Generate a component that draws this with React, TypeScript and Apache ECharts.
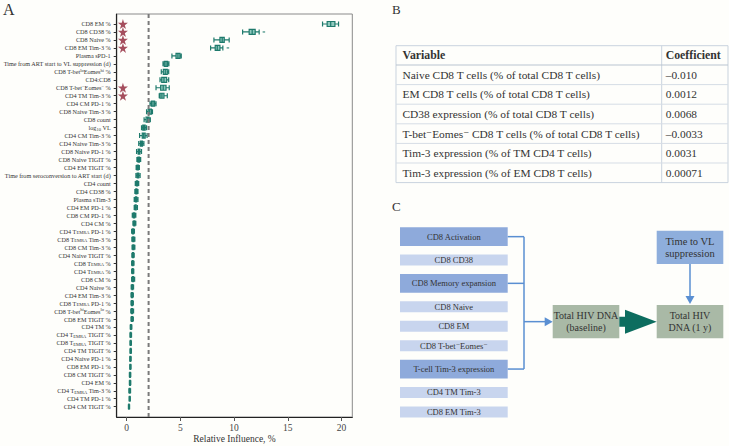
import React, { useEffect, useRef } from "react";
import * as echarts from "echarts";

const FONT = "Liberation Serif, DejaVu Serif, serif";

// ---------- Panel A data ----------
const variables = [
  "CD8 EM %",
  "CD8 CD38 %",
  "CD8 Naive %",
  "CD8 EM Tim-3 %",
  "Plasma sPD-1",
  "Time from ART start to VL suppression (d)",
  "CD8 T-bet{sup|lo}Eomes{sup|hi} %",
  "CD4:CD8",
  "CD8 T-bet{sup|−}Eomes{sup|−} %",
  "CD4 TM Tim-3 %",
  "CD4 CM PD-1 %",
  "CD8 Naive Tim-3 %",
  "CD8 count",
  "log{sub|10} VL",
  "CD4 CM Tim-3 %",
  "CD4 Naive Tim-3 %",
  "CD8 Naive PD-1 %",
  "CD8 Naive TIGIT %",
  "CD4 EM TIGIT %",
  "Time from seroconversion to ART start (d)",
  "CD4 count",
  "CD4 CD38 %",
  "Plasma sTim-3",
  "CD4 EM PD-1 %",
  "CD8 CM PD-1 %",
  "CD4 CM %",
  "CD4 T{sub|EMRA} PD-1 %",
  "CD8 T{sub|EMRA} Tim-3 %",
  "CD8 CM Tim-3 %",
  "CD4 Naive TIGIT %",
  "CD8 T{sub|EMRA} %",
  "CD4 T{sub|EMRA} %",
  "CD8 CM %",
  "CD4 Naive %",
  "CD4 EM Tim-3 %",
  "CD8 T{sub|EMRA} PD-1 %",
  "CD8 T-bet{sup|hi}Eomes{sup|lo} %",
  "CD8 EM TIGIT %",
  "CD4 TM %",
  "CD4 T{sub|EMRA} TIGIT %",
  "CD8 T{sub|EMRA} TIGIT %",
  "CD4 TM TIGIT %",
  "CD4 Naive PD-1 %",
  "CD8 EM PD-1 %",
  "CD8 CM TIGIT %",
  "CD4 EM %",
  "CD4 T{sub|EMRA} Tim-3 %",
  "CD4 TM PD-1 %",
  "CD4 CM TIGIT %",
];

const whiskerLow = [18.23, 10.79, 8.12, 7.81, 4.21, 3.38, 3.22, 3.1, 2.73, 3.03, 2.17, 1.85, 1.62, 1.38, 1.2, 1.12, 0.92, 0.95, 0.88, 0.86, 0.8, 0.76, 0.7, 0.7, 0.52, 0.58, 0.46, 0.48, 0.5, 0.48, 0.46, 0.46, 0.46, 0.42, 0.4, 0.4, 0.38, 0.4, 0.33, 0.3, 0.3, 0.3, 0.28, 0.28, 0.25, 0.25, 0.2, 0.22, 0.16];
const quartile1 = [18.66, 11.4, 8.68, 8.24, 4.59, 3.5, 3.41, 3.26, 3.16, 3.1, 2.3, 2.0, 1.8, 1.5, 1.45, 1.27, 1.07, 1.05, 0.96, 0.98, 0.9, 0.85, 0.81, 0.78, 0.62, 0.66, 0.54, 0.57, 0.57, 0.55, 0.52, 0.52, 0.54, 0.49, 0.46, 0.46, 0.46, 0.46, 0.37, 0.34, 0.34, 0.34, 0.31, 0.31, 0.28, 0.28, 0.25, 0.25, 0.19];
const medians = [18.99, 11.68, 8.89, 8.43, 4.77, 3.66, 3.59, 3.47, 3.4, 3.28, 2.45, 2.14, 1.95, 1.61, 1.58, 1.36, 1.15, 1.12, 1.02, 1.05, 0.96, 0.9, 0.87, 0.83, 0.68, 0.71, 0.59, 0.62, 0.62, 0.59, 0.56, 0.56, 0.59, 0.53, 0.5, 0.5, 0.5, 0.5, 0.4, 0.37, 0.37, 0.37, 0.34, 0.34, 0.31, 0.31, 0.28, 0.28, 0.21];
const quartile3 = [19.38, 11.96, 9.08, 8.68, 4.96, 3.81, 3.78, 3.72, 3.66, 3.47, 2.6, 2.3, 2.08, 1.72, 1.72, 1.47, 1.23, 1.19, 1.08, 1.12, 1.02, 0.95, 0.93, 0.88, 0.74, 0.76, 0.64, 0.67, 0.67, 0.63, 0.6, 0.6, 0.64, 0.57, 0.54, 0.54, 0.54, 0.54, 0.43, 0.4, 0.4, 0.4, 0.37, 0.37, 0.34, 0.34, 0.31, 0.31, 0.23];
const whiskerHigh = [19.72, 12.33, 9.54, 8.95, 5.08, 3.93, 3.91, 3.91, 3.96, 3.78, 2.73, 2.4, 2.2, 1.85, 1.9, 1.6, 1.38, 1.3, 1.18, 1.25, 1.12, 1.05, 1.05, 1.0, 0.85, 0.85, 0.72, 0.76, 0.76, 0.7, 0.68, 0.66, 0.74, 0.64, 0.62, 0.62, 0.64, 0.62, 0.48, 0.45, 0.44, 0.44, 0.42, 0.41, 0.38, 0.38, 0.36, 0.34, 0.27];
const outlierRows = [1, 3];
const outlierValues = [12.77, 9.42];
const starredRows = [0, 1, 2, 3, 8, 9];
const starX = -0.35;
const meanInfluence = 2.04;
const xTicks = [0, 5, 10, 15, 20];
const xAxisTitle = "Relative Influence, %";

// ---------- Panel B data ----------
const tableHeaders = ["Variable", "Coefficient"];
const tableVariables = [
  "Naive CD8 T cells (% of total CD8 T cells)",
  "EM CD8 T cells (% of total CD8 T cells)",
  "CD38 expression (% of total CD8 T cells)",
  "T-bet⁻Eomes⁻ CD8 T cells (% of total CD8 T cells)",
  "Tim-3 expression (% of TM CD4 T cells)",
  "Tim-3 expression (% of EM CD8 T cells)",
];
const tableCoefficients = ["–0.010", "0.0012", "0.0068", "–0.0033", "0.0031", "0.00071"];

// ---------- Panel C data ----------
const flowFactors = [
  "CD8 Activation",
  "CD8 CD38",
  "CD8 Memory expansion",
  "CD8 Naive",
  "CD8 EM",
  "CD8 T-bet⁻Eomes⁻",
  "T-cell Tim-3 expression",
  "CD4 TM Tim-3",
  "CD8 EM Tim-3",
];
const flowIsGroup = [true, false, true, false, false, false, true, false, false];
const baselineLabel = "Total HIV DNA\n(baseline)";
const outcomeLabel = "Total HIV\nDNA (1 y)";
const timeLabel = "Time to VL\nsuppression";

const STAR =
  "path://M50,0 L61,35 L98,35 L68,57 L79,91 L50,70 L21,91 L32,57 L2,35 L39,35 Z";

const PLOT_LEFT = 116.7;
const PLOT_RIGHT = 352.3;

function buildGraphics() {
  const g: any[] = [];
  const txt = (x: number, y: number, text: string, size: number, extra: any = {}) => ({
    type: "text",
    x,
    y,
    silent: true,
    style: {
      text,
      fill: extra.fill || "#333",
      fontSize: size,
      fontFamily: FONT,
      fontWeight: extra.weight || "normal",
      align: extra.align || "left",
      verticalAlign: extra.valign || "middle",
      lineHeight: extra.lineHeight,
    },
  });

  g.push(txt(3, 9, "A", 16));
  g.push(txt(392, 9, "B", 13));
  g.push(txt(392, 206, "C", 13));
  g.push(txt((PLOT_LEFT + PLOT_RIGHT) / 2, 439, xAxisTitle, 9.5, { align: "center" }));

  // ---- Table B ----
  const tL = 396, tR = 728, tTop = 45.7, headH = 19.3, rowH = 19.6, colX = 661.7;
  const tBottom = tTop + headH + rowH * tableVariables.length;
  const lineColor = "#c9d3de";
  g.push({
    type: "rect",
    silent: true,
    shape: { x: tL, y: tTop, width: tR - tL, height: tBottom - tTop },
    style: { fill: "none", stroke: lineColor, lineWidth: 1 },
  });
  g.push({
    type: "line",
    silent: true,
    shape: { x1: colX, y1: tTop, x2: colX, y2: tBottom },
    style: { stroke: lineColor, lineWidth: 1 },
  });
  for (let i = 0; i < tableVariables.length; i++) {
    const y = tTop + headH + rowH * i;
    g.push({
      type: "line",
      silent: true,
      shape: { x1: tL, y1: y, x2: tR, y2: y },
      style: { stroke: i === 0 ? "#b9c4d0" : "#d6dde5", lineWidth: 1 },
    });
    g.push(txt(tL + 6.5, y + rowH / 2, tableVariables[i], 11.4));
    g.push(txt(colX + 4, y + rowH / 2, tableCoefficients[i], 11.4));
  }
  g.push(txt(tL + 6.5, tTop + headH / 2, tableHeaders[0], 11.8, { weight: "bold" }));
  g.push(txt(colX + 4, tTop + headH / 2, tableHeaders[1], 11.8, { weight: "bold" }));

  // ---- Flowchart C ----
  const fx = 400, fw = 107.7, darkH = 18.7, lightH = 11, gap = 8.5;
  const blue = "#5a8fd2";
  let y = 227.3;
  const groupCenters: number[] = [];
  flowFactors.forEach((label, i) => {
    const h = flowIsGroup[i] ? darkH : lightH;
    g.push({
      type: "rect",
      silent: true,
      shape: { x: fx, y, width: fw, height: h },
      style: { fill: flowIsGroup[i] ? "#8eaadb" : "#c8d5ee" },
    });
    g.push(txt(fx + fw / 2, y + h / 2, label, 8.5, { align: "center" }));
    if (flowIsGroup[i]) groupCenters.push(y + h / 2);
    y += h + gap;
  });
  const bx = 524;
  groupCenters.forEach((cy) => {
    g.push({
      type: "line",
      silent: true,
      shape: { x1: fx + fw, y1: cy, x2: bx, y2: cy },
      style: { stroke: blue, lineWidth: 1.5 },
    });
  });
  g.push({
    type: "line",
    silent: true,
    shape: { x1: bx, y1: groupCenters[0], x2: bx, y2: groupCenters[groupCenters.length - 1] },
    style: { stroke: blue, lineWidth: 1.5 },
  });
  const boxY = 305, boxH = 33.3, boxW = 66.6;
  const midY = boxY + boxH / 2;
  const baseX = 552.7, outX = 656.7;
  g.push({
    type: "line",
    silent: true,
    shape: { x1: bx, y1: midY, x2: baseX - 6, y2: midY },
    style: { stroke: blue, lineWidth: 1.5 },
  });
  g.push({
    type: "polygon",
    silent: true,
    shape: { points: [[baseX, midY], [baseX - 8, midY - 4.5], [baseX - 8, midY + 4.5]] },
    style: { fill: blue },
  });
  g.push({ type: "rect", silent: true, shape: { x: baseX, y: boxY, width: boxW, height: boxH }, style: { fill: "#a9b9a6" } });
  g.push(txt(baseX + boxW / 2, midY, baselineLabel, 10, { align: "center", lineHeight: 12 }));
  g.push({ type: "rect", silent: true, shape: { x: outX, y: boxY, width: boxW, height: boxH }, style: { fill: "#a9b9a6" } });
  g.push(txt(outX + boxW / 2, midY, outcomeLabel, 10, { align: "center", lineHeight: 12 }));
  const aL = baseX + boxW, headX = 625;
  g.push({
    type: "polygon",
    silent: true,
    shape: {
      points: [
        [aL, midY - 5],
        [headX, midY - 5],
        [headX, midY - 12],
        [outX, midY],
        [headX, midY + 12],
        [headX, midY + 5],
        [aL, midY + 5],
      ],
    },
    style: { fill: "#0d6d5f" },
  });
  const tY = 230.7;
  g.push({ type: "rect", silent: true, shape: { x: outX, y: tY, width: boxW, height: boxH }, style: { fill: "#8eaedc" } });
  g.push(txt(outX + boxW / 2, tY + boxH / 2, timeLabel, 10.5, { align: "center", lineHeight: 12 }));
  const ax = outX + boxW / 2;
  g.push({
    type: "line",
    silent: true,
    shape: { x1: ax, y1: tY + boxH, x2: ax, y2: boxY - 7 },
    style: { stroke: blue, lineWidth: 1.5 },
  });
  g.push({
    type: "polygon",
    silent: true,
    shape: { points: [[ax, boxY - 1], [ax - 4.5, boxY - 9], [ax + 4.5, boxY - 9]] },
    style: { fill: blue },
  });
  return g;
}

export default function App() {
  const ref = useRef<HTMLDivElement>(null);
  useEffect(() => {
    document.body.style.margin = "0";
    const chart = echarts.init(ref.current!, null, { renderer: "svg" });
    const boxData = variables.map((_, i) => [
      whiskerLow[i],
      quartile1[i],
      medians[i],
      quartile3[i],
      whiskerHigh[i],
    ]);
    const right = 729 - PLOT_RIGHT;
    const option: any = {
      animation: false,
      backgroundColor: "#fefefb",
      textStyle: { fontFamily: FONT },
      grid: [
        { left: PLOT_LEFT, right, top: 14, bottom: 29, show: true, borderColor: "#8a8a8a", borderWidth: 1, containLabel: false, outerBoundsMode: "none" },
        { left: PLOT_LEFT, right, top: 20, bottom: 35.3, containLabel: false, outerBoundsMode: "none" },
      ],
      xAxis: [
        {
          gridIndex: 0,
          type: "value",
          min: -0.93,
          max: 21,
          axisLine: { show: true, onZero: false, lineStyle: { color: "#222", width: 1.2 } },
          axisTick: { show: true, customValues: xTicks, length: 4, lineStyle: { color: "#555" } },
          axisLabel: { customValues: xTicks, fontSize: 9.5, color: "#444", margin: 6, fontFamily: FONT },
          splitLine: { show: false },
        },
        { gridIndex: 1, type: "value", min: -0.93, max: 21, show: false },
      ],
      yAxis: [
        {
          gridIndex: 0,
          type: "value",
          min: 0,
          max: 1,
          axisLine: { show: true, onZero: false, lineStyle: { color: "#222", width: 1.2 } },
          axisTick: { show: false },
          axisLabel: { show: false },
          splitLine: { show: false },
        },
        {
          gridIndex: 1,
          type: "category",
          data: variables,
          inverse: true,
          axisLine: { show: false, onZero: false },
          axisTick: { show: true, alignWithLabel: true, length: 3, lineStyle: { color: "#333" } },
          axisLabel: {
            interval: 0,
            fontSize: 6.2,
            color: "#333",
            margin: 6,
            fontFamily: FONT,
            lineHeight: 8,
            rich: {
              sub: { fontSize: 4.5, lineHeight: 4, verticalAlign: "bottom", color: "#333", fontFamily: FONT },
              sup: { fontSize: 4.5, lineHeight: 4, verticalAlign: "top", color: "#333", fontFamily: FONT },
            },
          },
          splitLine: { show: false },
        },
      ],
      series: [
        {
          type: "line",
          xAxisIndex: 0,
          yAxisIndex: 0,
          data: [[meanInfluence, 0], [meanInfluence, 1]],
          symbol: "none",
          silent: true,
          lineStyle: { color: "#7a7a7a", width: 2, type: [4, 3] },
        },
        {
          type: "boxplot",
          xAxisIndex: 1,
          yAxisIndex: 1,
          data: boxData,
          boxWidth: [5, 6],
          itemStyle: { color: "#8fc9bd", borderColor: "#1e7a6c", borderWidth: 1.2 },
        },
        {
          type: "scatter",
          xAxisIndex: 1,
          yAxisIndex: 1,
          data: outlierRows.map((r, i) => [outlierValues[i], variables[r]]),
          symbol: "rect",
          symbolSize: [2.5, 1.3],
          itemStyle: { color: "#1e7a6c" },
        },
        {
          type: "scatter",
          xAxisIndex: 1,
          yAxisIndex: 1,
          data: starredRows.map((r) => [starX, variables[r]]),
          symbol: STAR,
          symbolSize: 10,
          itemStyle: { color: "#8e2236" },
        },
      ],
      graphic: buildGraphics(),
    };
    chart.setOption(option);
    return () => chart.dispose();
  }, []);
  return <div ref={ref} style={{ width: 729, height: 446 }} />;
}
